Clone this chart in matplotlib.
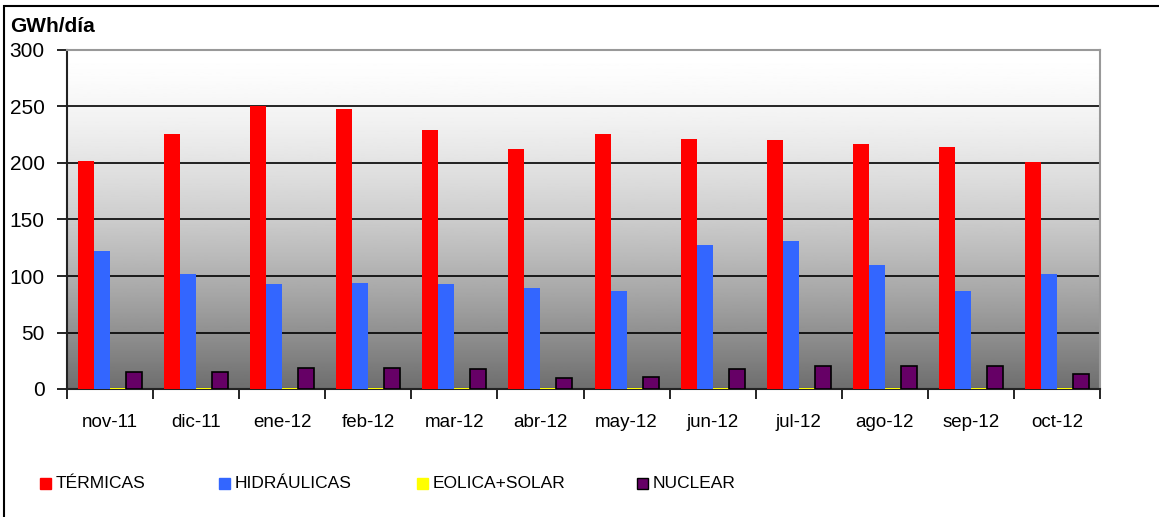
import numpy as np
import matplotlib
matplotlib.use('Agg')
import matplotlib.pyplot as plt
from matplotlib.patches import Rectangle

meses = ['nov-11', 'dic-11', 'ene-12', 'feb-12', 'mar-12', 'abr-12',
         'may-12', 'jun-12', 'jul-12', 'ago-12', 'sep-12', 'oct-12']
termicas = [202, 226, 250, 248, 229, 212, 226, 221, 220, 217, 214, 201]
hidraulicas = [122, 102, 93, 94, 93, 89, 87, 127, 131, 110, 87, 102]
eolica_solar = [1, 1, 1, 1, 1, 1, 1, 1, 1, 1, 1, 1]
nuclear = [15, 15, 19, 19, 18, 10, 11, 18, 20, 20, 20, 13]

series = [
    ('TÉRMICAS', termicas, '#ff0000', 'none'),
    ('HIDRÁULICAS', hidraulicas, '#3366ff', 'none'),
    ('EOLICA+SOLAR', eolica_solar, '#ffff00', 'none'),
    ('NUCLEAR', nuclear, '#660066', 'black'),
]

plt.rcParams['font.family'] = ['Liberation Sans', 'DejaVu Sans']

W, H = 1159, 517
fig = plt.figure(figsize=(W / 100, H / 100), dpi=100)

# outer frame of the chart
fig.patches.append(Rectangle((3.5 / W, -0.05), 1.1, (H - 6) / H + 0.05,
                             transform=fig.transFigure, fill=False,
                             edgecolor='black', lw=1.5))

ax = fig.add_axes([67 / W, (H - 389) / H, 1033 / W, 339 / H])

x = np.arange(len(meses))
bw = 16 / 86
for i, (name, vals, color, edge) in enumerate(series):
    ax.bar(x - 1.5 * bw + i * bw, vals, width=bw, color=color,
           edgecolor=edge, linewidth=1.2 if edge != 'none' else 0,
           zorder=3, label=name)

ax.set_xlim(-0.5, len(meses) - 0.5)
ax.set_ylim(0, 300)

# grey gradient background
f = np.linspace(0, 1, 256)
grad = (255 - 145 * f ** 1.5) / 255
ax.imshow(grad[:, None], cmap='gray', vmin=0, vmax=1, aspect='auto',
          extent=(-0.5, len(meses) - 0.5, 0, 300), origin='upper', zorder=0)

ax.set_yticks(range(0, 301, 50))
ax.tick_params(axis='y', direction='out', length=7, width=1.2, labelsize=15, pad=9)
for yv in range(50, 300, 50):
    ax.axhline(yv, color='black', lw=1.2, zorder=2)

ax.set_xticks(np.arange(-0.5, len(meses), 1.0))
ax.set_xticklabels([])
ax.set_xticks(x, minor=True)
ax.set_xticklabels(meses, minor=True, fontsize=13.5)
ax.tick_params(axis='x', which='major', direction='out', length=7, width=1.2)
ax.tick_params(axis='x', which='minor', length=0, pad=18)

for s in ['left', 'bottom']:
    ax.spines[s].set_color('#222222')
    ax.spines[s].set_linewidth(1.5)
for s in ['top', 'right']:
    ax.spines[s].set_color('#999999')
    ax.spines[s].set_linewidth(1.5)

fig.text(10 / W, 1 - 27 / H, 'GWh/día', fontsize=15, fontweight='bold',
         va='center', ha='left')

# legend along the bottom
leg_x = [40, 219, 417, 637]
for (name, vals, color, edge), lx in zip(series, leg_x):
    fig.patches.append(Rectangle((lx / W, 1 - 489 / H), 11 / W, 11 / H,
                                 transform=fig.transFigure, facecolor=color,
                                 edgecolor=edge if edge != 'none' else color,
                                 lw=1.0))
    fig.text((lx + 16) / W, 1 - 483 / H, name, fontsize=12.5,
             va='center', ha='left')

fig.savefig('out.png', dpi=100)
